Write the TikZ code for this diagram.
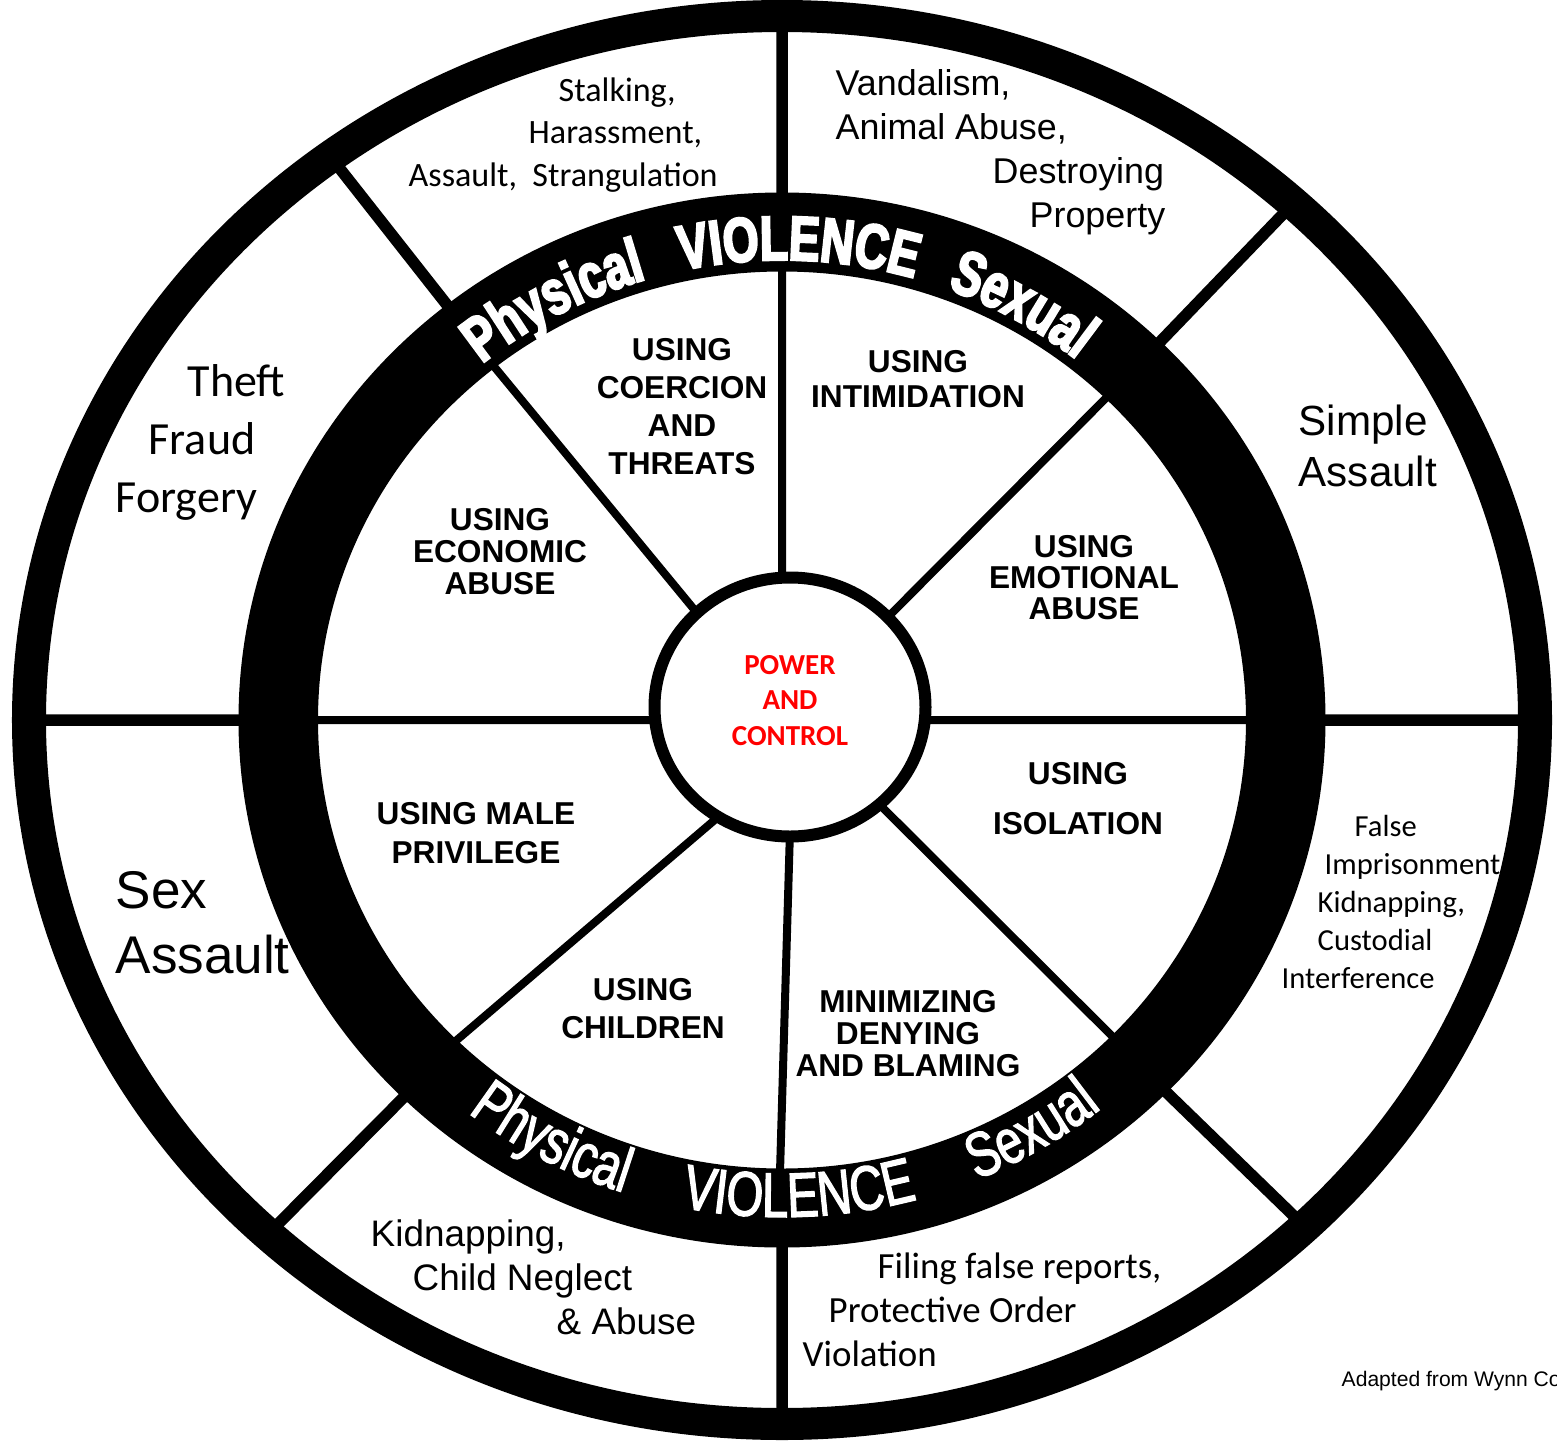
\documentclass[tikz,border=0pt]{standalone}
\usepackage{fontspec}
\setmainfont{Carlito}
\newfontfamily\arialfont{Liberation Sans}
\newfontfamily\bandfont[FakeStretch=0.75, FakeBold=2]{Liberation Sans}
\newfontfamily\bandboldfont[FakeStretch=0.73, FakeBold=3.5]{Liberation Sans Bold}
\usetikzlibrary{decorations.text}
\newcommand\bandtop{\bandboldfont\fontsize{17.9}{20}\selectfont\color{white}}
\newcommand\bandbot{\bandfont\fontsize{17.9}{20}\selectfont\color{white}}

\begin{document}
\begin{tikzpicture}[
  outerspoke/.style={line width=0.115cm},
  innerspoke/.style={line width=0.08cm},
  tactic/.style={font=\arialfont\bfseries\fontsize{9}{#1}\selectfont, align=center, inner sep=0pt},
  crime/.style={align=left, anchor=west, inner sep=0pt}
]
\useasboundingbox (-7.82,-7.20) rectangle (7.75,7.20);
\fill[white] (-7.82,-7.20) rectangle (7.75,7.20);

% spokes of the outer wheel
\draw[outerspoke] (0,6.95) -- (0,5.20)
  (-4.45,5.55) -- (-3.31,4.10)
  (5.04,5.09) -- (3.76,3.76)
  (-7.40,0) -- (-5.40,0)
  (5.40,0) -- (7.40,0)
  (-5.06,-5.06) -- (-3.75,-3.74)
  (3.81,-3.69) -- (5.15,-4.99)
  (0,-5.20) -- (0,-6.95);

% spokes of the inner wheel
\draw[innerspoke] (0,4.55) -- (0,1.35)
  (-2.90,3.56) -- (-0.80,1.01)
  (3.29,3.27) -- (1.00,0.97)
  (-4.68,0) -- (-1.20,0)
  (1.35,0) -- (4.68,0)
  (-0.58,-0.92) -- (-3.31,-3.25)
  (0.92,-0.79) -- (3.33,-3.19)
  (0.08,-1.10) -- (-0.02,-4.52);

% rings
\fill[even odd rule] (0,0) ellipse [x radius=7.70, y radius=7.20]
  (0,0) ellipse [x radius=7.36, y radius=6.88];
\fill[even odd rule] (0,0) ellipse [x radius=5.435, y radius=5.275]
  (0,0) ellipse [x radius=4.64, y radius=4.485];
\draw[line width=0.12cm, fill=white] (0.08,0.13) ellipse [x radius=1.355, y radius=1.295];

% words on the band
\path[decorate, decoration={text along path, text align=center, text={|\bandtop|Physical}}]
  (140:4.74 and 4.60) arc [start angle=140, end angle=96, x radius=4.74, y radius=4.60];
\path[decorate, decoration={text along path, text align=center, text={|\bandtop|VIOLENCE}}]
  (110:4.74 and 4.60) arc [start angle=110, end angle=66, x radius=4.74, y radius=4.60];
\path[decorate, decoration={text along path, text align=center, text={|\bandtop|Sexual}}]
  (82.5:4.74 and 4.60) arc [start angle=82.5, end angle=38.5, x radius=4.74, y radius=4.60];
\path[decorate, decoration={text along path, text align=center, text={|\bandbot|Physical}}]
  (220:5.12 and 4.97) arc [start angle=220, end angle=264, x radius=5.12, y radius=4.97];
\path[decorate, decoration={text along path, text align=center, text={|\bandbot|VIOLENCE}}]
  (250:5.12 and 4.97) arc [start angle=250, end angle=294, x radius=5.12, y radius=4.97];
\path[decorate, decoration={text along path, text align=center, text={|\bandbot|Sexual}}]
  (278.6:5.12 and 4.97) arc [start angle=278.6, end angle=322.6, x radius=5.12, y radius=4.97];

% outer ring texts
\node[crime, font=\fontsize{9.7}{12}\selectfont] (stalking) at (-3.74,5.85)
  {\hspace*{1.50cm}Stalking,\\\hspace*{1.20cm}Harassment,\\Assault,~~Strangulation};
\node[crime, font=\arialfont\fontsize{10.2}{12.5}\selectfont] (vandalism) at (0.53,5.675)
  {Vandalism,\\Animal Abuse,\\\hspace*{1.57cm}Destroying\\\hspace*{1.94cm}Property};
\node[crime, font=\fontsize{13.1}{16.5}\selectfont] (theft) at (-6.67,2.78)
  {\hspace*{0.72cm}Theft\\\hspace*{0.33cm}Fraud\\Forgery};
\node[crime, font=\arialfont\fontsize{12}{14.5}\selectfont] (simple) at (5.16,2.745)
  {Simple\\Assault};
\node[crime, font=\arialfont\fontsize{15.1}{18.5}\selectfont] (sexassault) at (-6.67,-2.025)
  {Sex\\Assault};
\node[crime, font=\arialfont\fontsize{10.5}{12.5}\selectfont] (kidnapping) at (-4.12,-5.575)
  {Kidnapping,\\\hspace*{0.42cm}Child Neglect\\\hspace*{1.86cm}\& Abuse};
\node[crime, font=\fontsize{10.5}{12.5}\selectfont] (filing) at (0.20,-5.895)
  {\hspace*{0.75cm}Filing false reports,\\\hspace*{0.26cm}Protective Order\\Violation};
\node[crime, font=\fontsize{8.7}{10.8}\selectfont] (falseimp) at (4.99,-1.82)
  {\hspace*{0.73cm}False\\\hspace*{0.43cm}Imprisonment,\\\hspace*{0.36cm}Kidnapping,\\\hspace*{0.36cm}Custodial\\Interference};
\node[crime, font=\arialfont\fontsize{6}{7}\selectfont] (credit) at (5.59,-6.61) {Adapted from Wynn Co};

% inner wheel texts
\node[tactic=10.8] (coercion) at (-1.00,3.13) {USING\\COERCION\\AND\\THREATS};
\node[tactic=10] (intimidation) at (1.36,3.405) {USING\\INTIMIDATION};
\node[tactic=9.2] (economic) at (-2.82,1.685) {USING\\ECONOMIC\\ABUSE};
\node[tactic=8.8] (emotional) at (3.02,1.425) {USING\\EMOTIONAL\\ABUSE};
\node[tactic=14.2] (isolation) at (2.96,-0.79) {USING\\ISOLATION};
\node[tactic=11.1] (privilege) at (-3.06,-1.135) {USING MALE\\PRIVILEGE};
\node[tactic=10.8] (children) at (-1.39,-2.89) {USING\\CHILDREN};
\node[tactic=9.1] (minimizing) at (1.26,-3.14) {MINIMIZING\\DENYING\\AND BLAMING};
\node[align=center, inner sep=0pt, text=red, font=\bfseries\fontsize{8.25}{10.1}\selectfont] (power) at (0.08,0.195) {POWER\\AND\\CONTROL};
\end{tikzpicture}
\end{document}
